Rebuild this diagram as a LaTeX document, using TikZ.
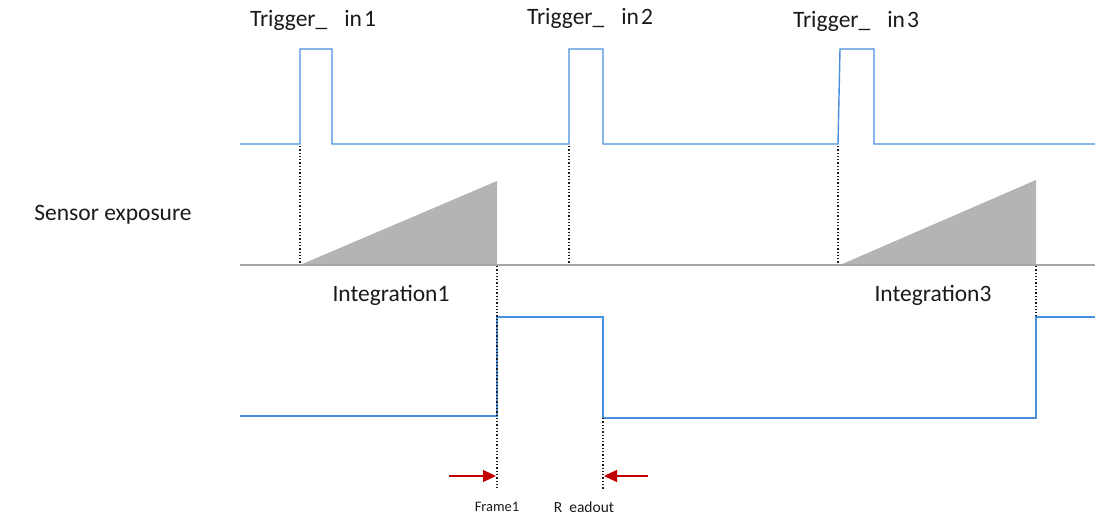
\documentclass[tikz,border=0pt]{standalone}
\usepackage{fontspec}
\setmainfont{Carlito}
\usetikzlibrary{arrows.meta}
\definecolor{Sig}{HTML}{4A8FDB}
\definecolor{Ramp}{HTML}{B4B4B4}
\definecolor{Base}{HTML}{A6A6A6}
\definecolor{Mark}{HTML}{C00000}
\definecolor{Ink}{HTML}{1A1A1A}

\begin{document}
\begin{tikzpicture}[x=1pt,y=-1pt,
    sig/.style={Sig,line width=1.4pt},
    guide/.style={Ink,line width=1.3pt,dotted},
    lbl/.style={font=\fontsize{23.5}{26}\selectfont,text=Ink},
    small/.style={font=\fontsize{14.5}{16}\selectfont,text=Ink}]
      \useasboundingbox (0,0) rectangle (1110,518);
      % trigger input
      \draw[sig] (240,144) -- (300,144) -- (300,49) -- (332,49) -- (332,144)
        -- (569,144) -- (569,49) -- (603,49) -- (603,144)
        -- (838,144) -- (840,49) -- (874,49) -- (874,144) -- (1095,144);
      \node[lbl] (trig1) at (313,20) {Trigger\_\hspace{17pt}in\hspace{2pt}1};
      \node[lbl] (trig2) at (590,18) {Trigger\_\hspace{17pt}in\hspace{2pt}2};
      \node[lbl] (trig3) at (856,21) {Trigger\_\hspace{17pt}in\hspace{2pt}3};
      % exposure ramps
      \fill[Ramp] (300,265) -- (497,181) -- (497,265) -- cycle;
      \fill[Ramp] (840,265) -- (1036,180) -- (1036,265) -- cycle;
      \draw[Base,line width=1.2pt] (240,265) -- (1095,265);
      \node[lbl] (sens) at (113,215) {Sensor exposure};
      \node[lbl] (int1) at (391,295) {Integration1};
      \node[lbl] (int3) at (933,295) {Integration3};
      % readout
      \draw[sig] (240,416) -- (497,416) -- (497,317) -- (603,317) -- (603,418)
        -- (1036,418) -- (1036,317) -- (1095,317);
      % guides
      \draw[guide] (300,146) -- (300,264);
      \draw[guide] (569,146) -- (569,264);
      \draw[guide] (838,146) -- (838,264);
      \draw[guide] (497,266) -- (497,490);
      \draw[guide] (603,418) -- (603,490);
      \draw[guide] (1036,266) -- (1036,316);
      \coordinate (fa) at (449,476);
      \coordinate (fb) at (496,476);
      \coordinate (ra) at (648,476);
      \coordinate (rb) at (604,476);
      \draw[Mark,line width=1.1pt,-{Triangle[length=13pt,width=12pt]}] (fa) -- (fb);
      \draw[Mark,line width=1.1pt,-{Triangle[length=13pt,width=12pt]}] (ra) -- (rb);
      \node[small] (frame) at (497,507) {Frame1};
      \node[small,font=\fontsize{15.5}{17}\selectfont] (read) at (584,507) {R\hspace{7pt}eadout};
    \end{tikzpicture}
\end{document}
